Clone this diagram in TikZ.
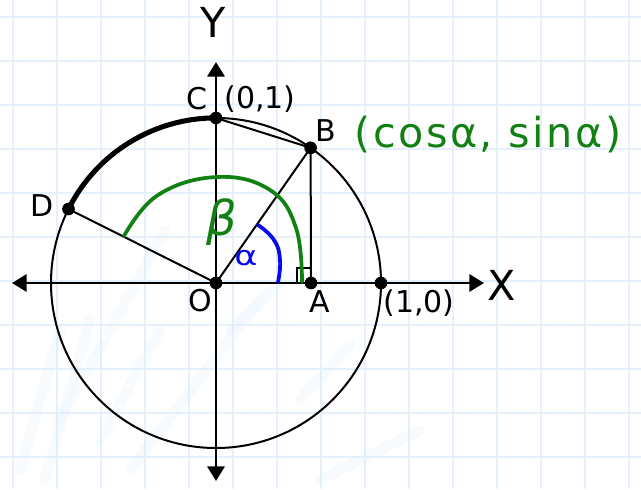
\documentclass[tikz,border=0pt]{standalone}
\usepackage{fontspec}
\setmainfont{DejaVu Sans}
\usetikzlibrary{arrows.meta}
\definecolor{gridblue}{RGB}{228,241,252}
\definecolor{faintblue}{RGB}{222,236,250}
\definecolor{pengreen}{RGB}{18,128,18}
\definecolor{penblue}{RGB}{8,8,240}
\begin{document}
\begin{tikzpicture}[x=0.75pt,y=0.75pt,
  dot/.style={circle,fill=black,inner sep=0pt,minimum size=9.5pt},
  lbl/.style={font=\fontsize{22.5}{22.5}\selectfont,inner sep=0pt},
  axislbl/.style={font=\fontsize{31}{31}\selectfont,inner sep=0pt},
  gridline/.style={gridblue,line width=2pt},
  faint/.style={faintblue,line width=8pt,line cap=round,opacity=0.2},
  figline/.style={black,line width=1.5pt},
  axisline/.style={black,line width=1.8pt,arrows={Triangle[length=11pt,width=13pt]-Triangle[length=11pt,width=13pt]}},
  thickarc/.style={black,line width=3.8pt},
  greenpen/.style={pengreen,line width=2.8pt,line cap=round},
  bluepen/.style={penblue,line width=2.8pt,line cap=round}]
\useasboundingbox (0,0) rectangle (641,-489);
\fill[white] (0,0) rectangle (641,-489);
% grid
\foreach \gx in {13,57,...,629} \draw[gridline] (\gx,0) -- (\gx,-489);
\foreach \gy in {17,61,...,457} \draw[gridline] (0,-\gy) -- (641,-\gy);
% faint background strokes
\draw[faint] (20,-470) -- (60,-330);
\draw[faint] (45,-480) -- (90,-320);
\draw[faint] (60,-420) -- (165,-230);
\draw[faint] (100,-440) -- (160,-330);
\draw[faint] (130,-470) -- (260,-300);
\draw[faint] (230,-330) -- (290,-275);
\draw[faint] (300,-400) -- (350,-345);
\draw[faint] (320,-480) -- (420,-430);
% points
\coordinate (Oc) at (216,-283);
\node[dot] (O) at (216,-283) {};
\node[dot] (A) at (311,-283) {};
\node[dot] (B) at (310.6,-147.8) {};
\node[dot] (C) at (216,-118) {};
\node[dot] (D) at (68.5,-209) {};
\node[dot] (E) at (381,-283) {};
% axes
\coordinate (xl) at (12,-283);
\coordinate (xr) at (484,-283);
\coordinate (yt) at (216,-62);
\coordinate (yb) at (216,-481);
\draw[axisline] (xl) -- (xr);
\draw[axisline] (yb) -- (yt);
% circle
\draw[figline] (Oc) circle[radius=123.75pt];
\draw[thickarc] (D.center) arc[start angle=153.4,end angle=90,radius=123.75pt];
% segments
\draw[figline] (O.center) -- (B.center);
\draw[figline] (O.center) -- (D.center);
\draw[figline] (C.center) -- (B.center);
\draw[figline] (B.center) -- (A.center);
\draw[figline] (297,-283) -- (297,-268) -- (311,-268);
% angle marks
\draw[greenpen] plot[smooth,tension=0.7] coordinates {(124,-236) (158,-195) (217,-177) (270,-190) (296,-228) (302,-282)};
\draw[bluepen] plot[smooth,tension=0.8] coordinates {(258,-225) (274,-240) (280,-260) (278,-282)};
\node[text=pengreen,font=\fontsize{36}{36}\selectfont\itshape,inner sep=0pt] (beta) at (222,-222) {β};
\node[text=penblue,font=\fontsize{24}{24}\selectfont,inner sep=0pt,xscale=1.1,yscale=0.85] (alpha) at (246,-258) {α};
% labels
\node[axislbl] (Ylbl) at (213,-22) {Y};
\node[axislbl] (Xlbl) at (502,-285) {X};
\node[lbl] (Clbl) at (197,-99) {C};
\node[lbl] (C01) at (260,-99) {(0,1)};
\node[lbl] (Blbl) at (326,-131) {B};
\node[lbl] (Dlbl) at (42,-206) {D};
\node[lbl] (Olbl) at (200,-301) {O};
\node[lbl] (Albl) at (320,-302) {A};
\node[lbl] (E10) at (419,-303) {(1,0)};
\node[text=pengreen,font=\fontsize{31}{31}\selectfont\addfontfeature{LetterSpace=6},inner sep=0pt] (Bcoord) at (488,-135) {(cosα, sinα)};
\end{tikzpicture}
\end{document}
